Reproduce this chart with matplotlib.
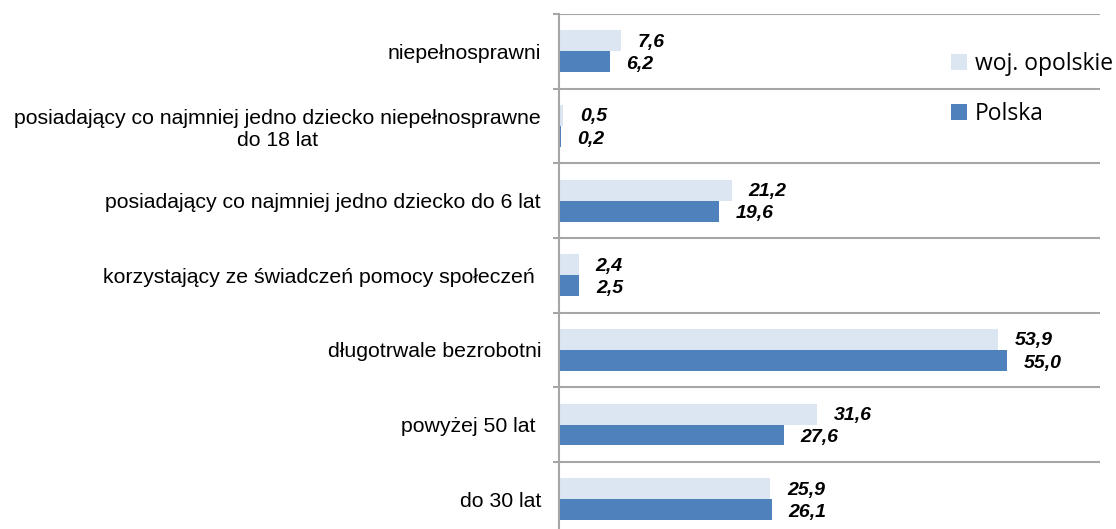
import matplotlib
matplotlib.use("Agg")
import matplotlib.pyplot as plt
import numpy as np

categories = [
    "niepełnosprawni",
    "posiadający co najmniej jedno dziecko niepełnosprawne\ndo 18 lat",
    "posiadający co najmniej jedno dziecko do 6 lat",
    "korzystający ze świadczeń pomocy społeczeń ",
    "długotrwale bezrobotni",
    "powyżej 50 lat ",
    "do 30 lat",
]
opolskie = [7.6, 0.5, 21.2, 2.4, 53.9, 31.6, 25.9]
polska = [6.2, 0.2, 19.6, 2.5, 55.0, 27.6, 26.1]
series_names = ["woj. opolskie", "Polska"]

LIGHT = "#DCE6F2"
DARK = "#4F81BD"
GRID = "#A6A6A6"

plt.rcParams["font.family"] = ["Liberation Sans", "DejaVu Sans"]

fig = plt.figure(figsize=(11.16, 5.29), dpi=100)
ax = fig.add_axes([0.501, 0.0, 0.986 - 0.501, 0.9735])

y = np.arange(len(categories))
h = 0.28
ax.barh(y - h / 2, opolskie, height=h, color=LIGHT, label=series_names[0])
ax.barh(y + h / 2, polska, height=h, color=DARK, label=series_names[1])

# value labels, Polish decimal comma
fmt = lambda v: f"{v:.1f}".replace(".", ",")
for vals, off, dy in ((opolskie, -h / 2, -1), (polska, h / 2, -2)):
    for yi, v in zip(y, vals):
        ax.annotate(fmt(v), (v, yi + off), xytext=(12, dy), textcoords="offset points",
                    ha="left", va="center", fontsize=14, fontweight="bold",
                    fontstyle="italic")

ax.set_xlim(0, 66.4)
ax.set_ylim(6.40, -0.5)
ax.set_yticks(y)
ax.set_yticklabels(categories, fontsize=15.3, multialignment="center")
ax.set_yticks(np.arange(len(categories)) - 0.5, minor=True)
ax.tick_params(axis="y", which="major", length=0, pad=13)
ax.tick_params(axis="y", which="minor", length=4.5, width=1.5, color=GRID)
ax.set_xticks([])
ax.grid(axis="y", which="minor", color=GRID, linewidth=1.5)
ax.set_axisbelow(True)
for s in ("top", "right", "bottom"):
    ax.spines[s].set_visible(False)
ax.spines["left"].set_color(GRID)
ax.spines["left"].set_linewidth(1.5)

ax.legend(loc="upper left", bbox_to_anchor=(0.707, 0.944), frameon=False,
          borderaxespad=0, handlelength=0.7, handleheight=0.7, handletextpad=0.35,
          labelspacing=1.15, prop={"family": "Open Sans", "size": 16.5})

fig.savefig("out.png", dpi=100)
